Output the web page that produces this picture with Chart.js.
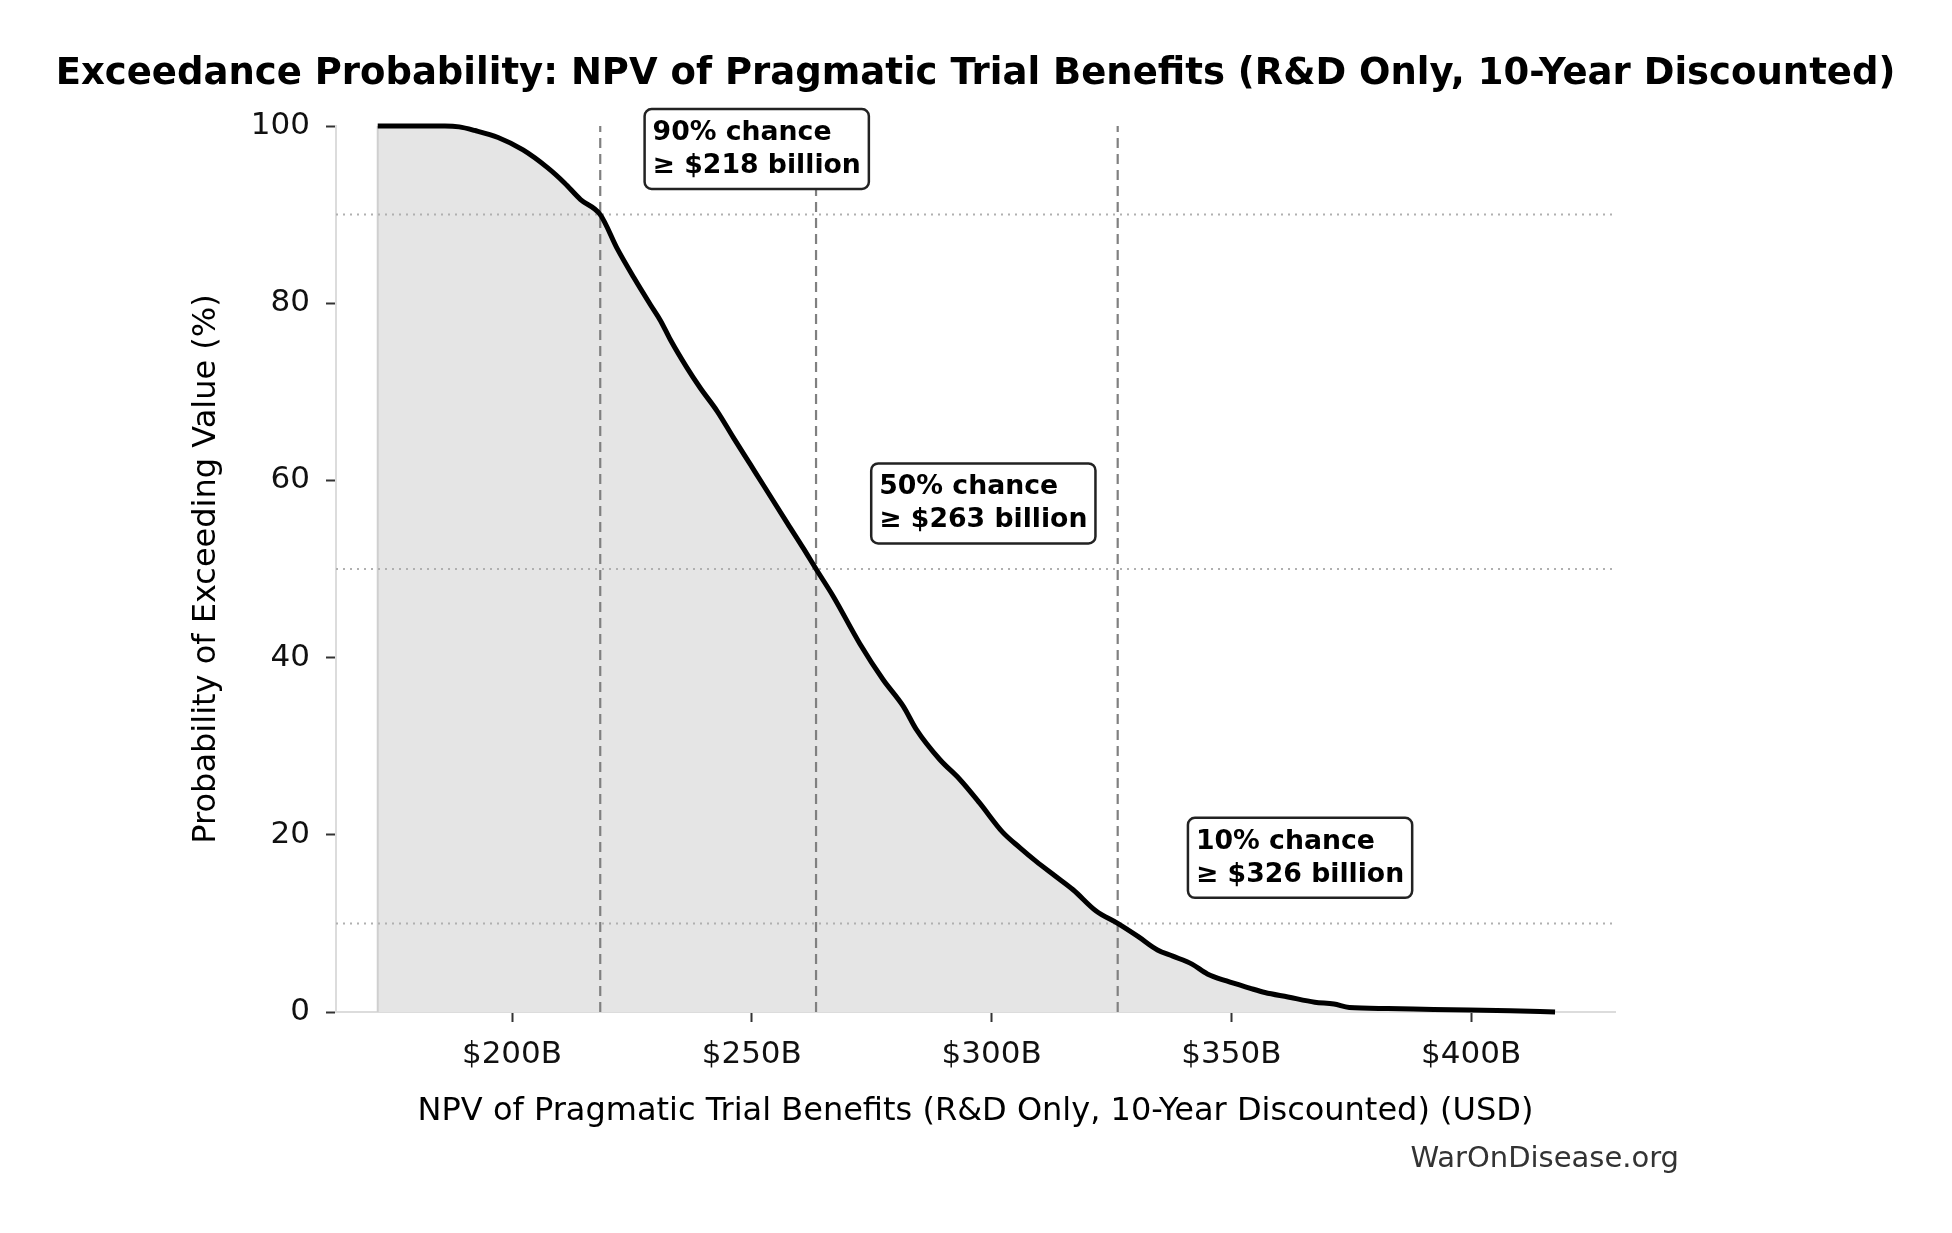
<!DOCTYPE html>
<html>
<head>
<meta charset="utf-8">
<title>Exceedance Probability</title>
<script src="https://cdn.jsdelivr.net/npm/chart.js@4.4.1/dist/chart.umd.min.js"></script>
<style>
  html, body { margin: 0; padding: 0; background: #fff; }
  #wrap { width: 1952px; height: 1233px; }
</style>
</head>
<body>
<div id="wrap"><canvas id="exceedChart" width="1952" height="1233"></canvas></div>
<script>
// NPV in $ billions and the matching chance (%) of exceeding it
const npvBillions = [172.0, 186.0, 189.0, 192.2, 197.1, 202.3, 207.4, 210.9, 214.3, 218.4,
  222.0, 225.4, 228.9, 231.0, 233.0, 236.5, 239.3, 242.8, 246.2, 249.7,
  252.5, 257.5, 260.8, 263.4, 267.0, 272.5, 277.4, 281.6, 284.3, 289.2,
  293.3, 297.5, 302.3, 306.0, 309.3, 313.4, 317.0, 321.8, 326.3, 330.6,
  334.6, 337.8, 341.8, 345.0, 349.0, 353.8, 357.0, 361.8, 367.4, 371.4,
  374.6, 382.6, 392.2, 408.2, 417.5];
const exceedPct = [100, 100, 99.9, 99.5, 98.7, 97.3, 95.3, 93.6, 91.7, 90.0,
  86.1, 82.9, 79.8, 78.0, 75.9, 72.7, 70.4, 67.8, 64.8, 61.8,
  59.4, 55.1, 52.3, 50.0, 46.9, 41.6, 37.5, 34.5, 31.9, 28.5,
  26.3, 23.6, 20.3, 18.5, 17.0, 15.3, 13.8, 11.4, 10.0, 8.5,
  7.0, 6.3, 5.4, 4.3, 3.5, 2.7, 2.2, 1.7, 1.1, 0.9,
  0.5, 0.39, 0.27, 0.15, 0.0];

const xTickValues = [200, 250, 300, 350, 400];
const yTickValues = [0, 20, 40, 60, 80, 100];
const xRange = [163.3, 430];

// percentile markers: chance (%) and the NPV it corresponds to
const markerPct = [90, 50, 10];
const markerNpv = [218.4, 263.4, 326.3];

const FONT = "'DejaVu Sans', sans-serif";

const curve = npvBillions.map((x, i) => ({ x: x, y: exceedPct[i] }));

const datasets = [
  {
    label: "Exceedance",
    data: curve,
    borderColor: "#000",
    borderWidth: 5,
    backgroundColor: "#e5e5e5",
    fill: "origin",
    pointRadius: 0,
    cubicInterpolationMode: "monotone",
    borderJoinStyle: "round",
    clip: 8,
    order: 0
  },
  {
    label: "edge",
    data: [{ x: npvBillions[0], y: 0 }, { x: npvBillions[0], y: 100 }],
    borderColor: "#cfcfcf",
    borderWidth: 2,
    pointRadius: 0,
    fill: false,
    order: 3
  }
];

markerPct.forEach((p, i) => {
  datasets.push({
    label: "h" + p,
    data: [{ x: xRange[0], y: p }, { x: xRange[1], y: p }],
    borderColor: "#b0b0b0",
    borderWidth: 2,
    borderDash: [2, 5],
    pointRadius: 0,
    fill: false,
    order: 2
  });
  datasets.push({
    label: "v" + p,
    data: [{ x: markerNpv[i], y: 0 }, { x: markerNpv[i], y: 100 }],
    borderColor: "#808080",
    borderWidth: 2.2,
    borderDash: [10, 6],
    pointRadius: 0,
    fill: false,
    order: 1
  });
});

const textPlugin = {
  id: "textPlugin",
  afterDraw(chart) {
    const ctx = chart.ctx;
    const area = chart.chartArea;
    const xs = chart.scales.x;
    const ys = chart.scales.y;
    const midX = (area.left + area.right) / 2;
    const midY = (area.top + area.bottom) / 2;
    ctx.save();

    // title
    ctx.fillStyle = "#000";
    ctx.textAlign = "center";
    ctx.textBaseline = "middle";
    ctx.font = "bold 37px " + FONT;
    ctx.fillText("Exceedance Probability: NPV of Pragmatic Trial Benefits (R&D Only, 10-Year Discounted)", midX, 74);

    // axis titles
    ctx.font = "32px " + FONT;
    ctx.fillText("NPV of Pragmatic Trial Benefits (R&D Only, 10-Year Discounted) (USD)", midX, 1112);
    ctx.save();
    ctx.translate(207, midY);
    ctx.rotate(-Math.PI / 2);
    ctx.fillText("Probability of Exceeding Value (%)", 0, 0);
    ctx.restore();

    // percentile boxes
    ctx.font = "bold 26.7px " + FONT;
    markerPct.forEach((p, i) => {
      const lines = [p + "% chance", "\u2265 $" + Math.round(markerNpv[i]) + " billion"];
      const tx = xs.getPixelForValue(markerNpv[i] * 1.05);
      const cy = ys.getPixelForValue(p + 7.4);
      const w = Math.max(...lines.map(l => ctx.measureText(l).width));
      const pad = 8;
      const bx = tx - pad, by = cy - 40, bw = w + pad * 2, bh = 80;
      ctx.beginPath();
      ctx.roundRect(bx, by, bw, bh, 7);
      ctx.fillStyle = "#fff";
      ctx.fill();
      ctx.lineWidth = 2.5;
      ctx.strokeStyle = "#222";
      ctx.stroke();
      ctx.fillStyle = "#000";
      ctx.textAlign = "left";
      ctx.fillText(lines[0], tx, cy - 16);
      ctx.fillText(lines[1], tx, cy + 17);
    });

    // watermark
    ctx.font = "29px " + FONT;
    ctx.fillStyle = "#333";
    ctx.textAlign = "right";
    ctx.fillText("WarOnDisease.org", 1679, 1159);
    ctx.restore();
  }
};

new Chart(document.getElementById("exceedChart"), {
  type: "line",
  data: { datasets: datasets },
  options: {
    responsive: false,
    devicePixelRatio: 1,
    animation: false,
    layout: { padding: { top: 126, right: 337, left: 0, bottom: 0 } },
    plugins: {
      legend: { display: false },
      tooltip: { enabled: false },
      filler: { drawTime: "beforeDatasetsDraw" }
    },
    scales: {
      x: {
        type: "linear",
        min: xRange[0],
        max: xRange[1],
        afterBuildTicks: s => { s.ticks = xTickValues.map(v => ({ value: v })); },
        afterFit: s => { s.height = 221; },
        ticks: {
          callback: v => "$" + v + "B",
          font: { family: FONT, size: 31 },
          color: "#111",
          padding: 14,
          maxRotation: 0,
          autoSkip: false
        },
        grid: { drawOnChartArea: false, tickLength: 10, tickColor: "#333", tickWidth: 2 },
        border: { color: "#dcdcdc", width: 2 }
      },
      y: {
        min: 0,
        max: 100,
        afterBuildTicks: s => { s.ticks = yTickValues.map(v => ({ value: v })); },
        afterFit: s => { s.width = 336; },
        ticks: {
          font: { family: FONT, size: 31 },
          color: "#111",
          padding: 16
        },
        grid: { drawOnChartArea: false, tickLength: 10, tickColor: "#333", tickWidth: 2 },
        border: { color: "#dcdcdc", width: 2 }
      }
    }
  },
  plugins: [textPlugin]
});
</script>
</body>
</html>
